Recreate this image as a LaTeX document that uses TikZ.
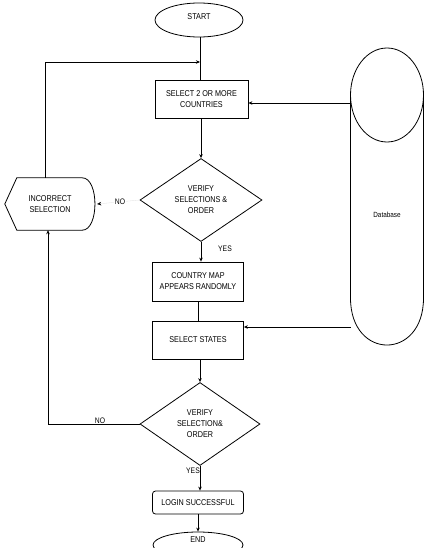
\documentclass[tikz,border=0pt]{standalone}
\usepackage{fontspec}
\setmainfont{Liberation Sans}[FakeStretch=0.85]
\usetikzlibrary{shapes.geometric,arrows.meta}
\tikzset{
  lbl/.style={font=\fontsize{8.5}{11}\selectfont, align=center},
  proc/.style={draw, lbl, line width=0.8pt, minimum width=91pt, minimum height=38pt, inner sep=1pt},
  dec/.style={draw, lbl, line width=0.8pt, diamond, aspect=1.5, inner sep=0pt, minimum width=122pt, minimum height=83pt},
  term/.style={draw, lbl, line width=0.8pt, ellipse, inner sep=0pt},
  conn/.style={line width=0.8pt},
  arr/.style={conn, -{Stealth[length=4pt,width=3.5pt]}},
  faintarr/.style={line width=0.3pt, black!12, -{Stealth[length=4pt,width=3.5pt,black]}},
  tag/.style={font=\fontsize{8}{9}\selectfont, inner sep=1pt}
}
\begin{document}
\begin{tikzpicture}[x=1pt,y=-1pt]
\clip (0,0) rectangle (424,548);
\fill[white] (0,0) rectangle (424,548);
% nodes
\node[term, minimum width=88pt, minimum height=34pt] (start) at (199,20) {};
\node[lbl] (startt) at (199,17) {START};
\node[proc, minimum width=93pt] (b1) at (201.5,99) {SELECT 2 OR MORE\\COUNTRIES};
\node[dec] (d1) at (201,200) {VERIFY\\SELECTIONS \&\\ORDER};
\node[proc, minimum height=39pt] (b3) at (198,281.5) {COUNTRY MAP\\APPEARS RANDOMLY};
\node[proc] (b4) at (198,340) {SELECT STATES};
\node[dec, minimum width=120pt] (d2) at (200,424) {VERIFY\\SELECTION\&\\ORDER};
\node[proc, minimum height=23pt, rounded corners=3pt] (b5) at (198,502.5) {LOGIN SUCCESSFUL};
\node[term, minimum width=90pt, minimum height=26pt] (end) at (198,545) {};
\node[lbl] (endt) at (198,540) {END};
\node[lbl, minimum width=90pt, minimum height=52pt, inner sep=0pt] (inc) at (50,204) {INCORRECT\\SELECTION};
\node[font=\fontsize{7.5}{9}\selectfont] (db) at (387,215) {Database};
% incorrect selection shape
\draw[conn] (inc.west) -- ([xshift=12pt]inc.north west) -- ([xshift=-13pt]inc.north east)
  .. controls ([xshift=4pt]inc.north east) and ([xshift=4pt]inc.south east) .. ([xshift=-13pt]inc.south east)
  -- ([xshift=12pt]inc.south west) -- cycle;
% database drum
\draw[conn] (387,95) ellipse [x radius=36.5, y radius=47];
\draw[conn] (350.5,95) -- (350.5,298) .. controls (350.5,360.7) and (423.5,360.7) .. (423.5,298) -- (423.5,95);
\coordinate (dbA) at (350.5,103);
\coordinate (dbB) at (350.5,327);
\coordinate (j1) at (200,62);
% connectors
\draw[conn] ([xshift=1pt]start.south) -- ([xshift=1pt]start.south |- b1.north);
\draw[arr] ([xshift=-5pt]inc.north) |- (j1);
\draw[arr] (b1.south -| d1.north) -- (d1.north);
\draw[arr] (d1.south) -- (d1.south |- b3.north);
\draw[conn] (b3.south) -- (b4.north);
\draw[arr] (d2.north |- b4.south) -- (d2.north);
\draw[arr] (d2.south) -- (d2.south |- b5.north);
\draw[arr] (b5.south) -- (end.north);
\draw[faintarr] (d1.west) -- ([xshift=2pt]inc.east);
\draw[arr] (d2.west) -| ([xshift=-2pt]inc.south);
\draw[arr] (dbA) -- (b1.east |- dbA);
\draw[arr] (dbB) -- (b4.east |- dbB);
% labels
\node[tag, fill=white] (no1) at (120,202) {NO};
\node[tag] (yes1) at (225,249) {YES};
\node[tag, anchor=south] (no2) at (100,425) {NO};
\node[tag] (yes2) at (193,471) {YES};
\end{tikzpicture}
\end{document}
